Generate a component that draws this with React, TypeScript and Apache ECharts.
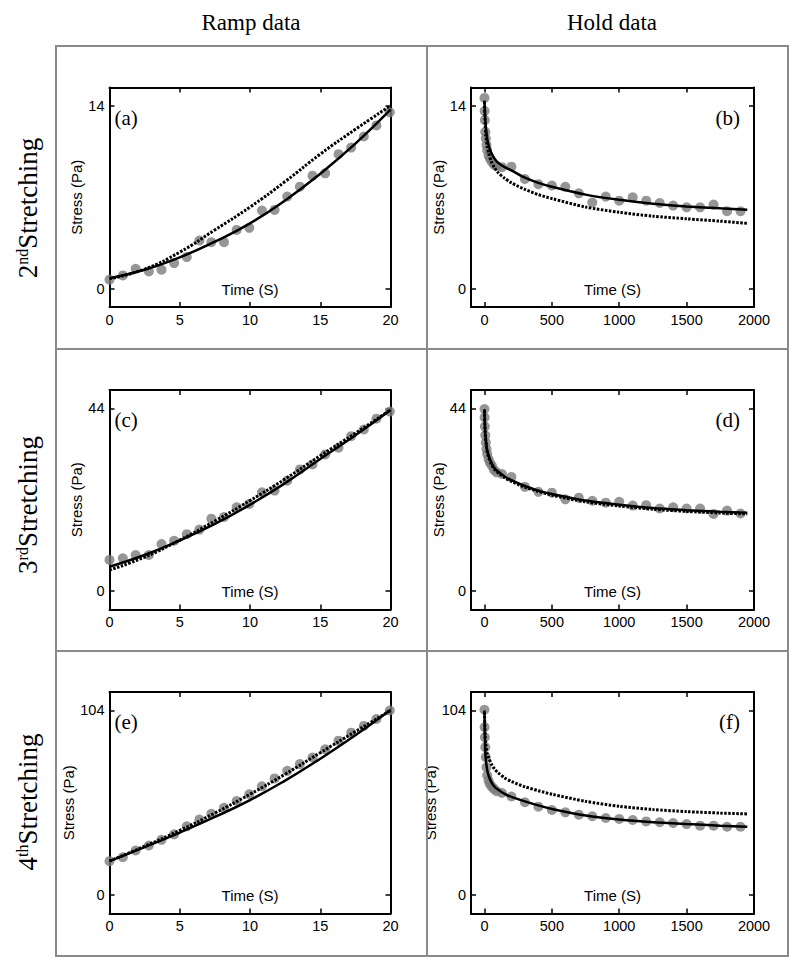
import React, { useEffect, useRef } from "react";
import * as echarts from "echarts";

// ---------- data ----------
const rampTime = [0, 0.95, 1.86, 2.8, 3.7, 4.6, 5.5, 6.4, 7.25, 8.15, 9.05, 9.95, 10.85, 11.75, 12.65, 13.55, 14.45, 15.35, 16.3, 17.2, 18.1, 19.0, 19.95];
const ramp2nd = [0.69, 1.02, 1.53, 1.32, 1.45, 1.96, 2.42, 3.69, 3.56, 3.56, 4.5, 4.66, 5.98, 6.03, 7.05, 7.81, 8.65, 8.83, 10.3, 10.8, 11.65, 12.5, 13.5];
const ramp3rd = [7.53, 7.93, 8.72, 8.72, 11.34, 12.13, 13.72, 14.83, 17.45, 17.84, 20.2, 21.0, 23.8, 24.2, 26.6, 29.3, 30.5, 32.9, 34.5, 37.3, 38.9, 41.5, 43.2];
const ramp4th = [19.1, 21.3, 25.1, 27.9, 31.1, 34.2, 38.7, 42.5, 45.8, 49.2, 53.0, 56.8, 61.3, 65.7, 70.0, 73.8, 77.5, 82.1, 87.0, 91.5, 95.3, 99.2, 104];

const rampFitTime = [0, 2.5, 5, 7.5, 10, 12.5, 15, 17.5, 20];
const ramp2ndSolid = [0.8, 1.45, 2.4, 3.6, 5.0, 6.75, 8.8, 11.1, 13.7];
const ramp2ndDotted = [0.76, 1.5, 2.8, 4.5, 6.25, 8.2, 10.3, 12.2, 14.0];
const ramp3rdSolid = [5.9, 8.7, 12.2, 16.2, 20.8, 26.0, 31.8, 37.5, 43.6];
const ramp3rdDotted = [5.1, 8.2, 12.3, 16.9, 21.8, 27.0, 32.6, 38.0, 43.6];
const ramp4thSolid = [19.1, 27.0, 35.2, 44.0, 53.5, 64.5, 76.8, 90.0, 104.2];
const ramp4thDotted = [19.1, 27.5, 36.4, 46.2, 56.8, 68.1, 80.2, 92.1, 104];

const holdTime = [0, 1, 3, 6, 10, 15, 20, 30, 40, 55, 70, 90, 130, 200, 300, 400, 500, 600, 700, 800, 900, 1000, 1100, 1200, 1300, 1400, 1500, 1600, 1700, 1800, 1900];
const hold2nd = [14.6, 13.6, 12.9, 12.0, 11.5, 11.0, 10.6, 10.2, 9.95, 9.7, 9.5, 9.4, 9.3, 9.34, 8.4, 8.0, 7.9, 7.8, 7.3, 6.6, 7.05, 6.74, 7.0, 6.74, 6.56, 6.36, 6.23, 6.23, 6.44, 5.93, 5.93];
const hold3rd = [43.8, 41.8, 39.6, 37.5, 35.8, 34.2, 33.0, 31.8, 30.9, 30.2, 29.2, 28.6, 28.2, 27.5, 25.1, 23.9, 23.7, 22.1, 22.5, 21.75, 21.3, 21.5, 20.6, 20.7, 19.9, 20.2, 19.9, 19.9, 18.6, 19.4, 18.7];
const hold4th = [104.4, 94.6, 88.9, 83.3, 77.7, 72, 67.5, 64.5, 62.5, 61.0, 59.8, 58.5, 57.5, 55.5, 52.3, 49.8, 47.9, 46.6, 45.3, 44.4, 43.4, 42.9, 42.3, 41.5, 41.0, 40.6, 40.0, 39.1, 39.1, 38.5, 38.5];

const holdFitTime = [0, 5, 10, 20, 30, 50, 75, 100, 150, 200, 300, 400, 500, 750, 1000, 1250, 1500, 1750, 1950];
const hold2ndSolid = [14.4, 13.1, 12.4, 11.5, 11.0, 10.4, 9.95, 9.65, 9.3, 9.05, 8.5, 8.1, 7.8, 7.2, 6.8, 6.5, 6.3, 6.15, 6.05];
const hold2ndDotted = [14.3, 12.6, 11.8, 10.9, 10.4, 9.75, 9.25, 8.9, 8.45, 8.1, 7.6, 7.2, 6.9, 6.25, 5.85, 5.55, 5.35, 5.17, 5.0];
const hold3rdSolid = [43.8, 38.5, 36.5, 34.0, 32.8, 31.0, 29.6, 28.8, 27.6, 26.7, 25.3, 24.2, 23.4, 21.8, 20.8, 20.0, 19.5, 19.1, 18.9];
const hold3rdDotted = [43.5, 38.0, 36.0, 33.5, 32.3, 30.6, 29.3, 28.5, 27.3, 26.4, 25.0, 24.0, 23.1, 21.5, 20.5, 19.7, 19.2, 18.8, 18.6];
const hold4thSolid = [104, 82, 76.5, 70.5, 67.5, 63.8, 61.0, 59.5, 57.0, 55.3, 52.8, 50.5, 48.5, 44.8, 42.5, 41.0, 40.0, 39.1, 38.5];
const hold4thDotted = [103, 90, 85, 80, 77.5, 74, 71, 69, 66, 64, 61, 58.8, 56.8, 52.8, 50.0, 48.2, 47.0, 46.2, 45.7];

const rampTicks = [0, 5, 10, 15, 20];
const holdTicks = [0, 500, 1000, 1500, 2000];
const yTop2nd = 14;
const yTop3rd = 44;
const yTop4th = 104;

const columnTitles = ["Ramp data", "Hold data"];
const rowLabels = [
  ["2", "nd"],
  ["3", "rd"],
  ["4", "th"],
];
const panelLetters = ["(a)", "(b)", "(c)", "(d)", "(e)", "(f)"];

// ---------- layout ----------
const SANS = "Liberation Sans, Arial, Helvetica, sans-serif";
const SERIF = "Liberation Serif, Times New Roman, serif";

type Panel = {
  left: number; top: number; w: number; h: number;
  xMin: number; xMax: number; xTicks: number[];
  yTop: number; pts: number[][]; solid: number[][]; dotted: number[][];
  yNameGap: number; letter: string; ramp: boolean;
};

const zip = (a: number[], b: number[]) => a.map((v, i) => [v, b[i]]);

const rowTops = [87.5, 390, 692];
const rowH = [219.5, 219.5, 221.5];
const rampLeft = 109.5;
const rampW = 281;
const holdLeft = 471;
const holdW = 283;
const yTops = [yTop2nd, yTop3rd, yTop4th];
const rampPts = [ramp2nd, ramp3rd, ramp4th];
const rampSol = [ramp2ndSolid, ramp3rdSolid, ramp4thSolid];
const rampDot = [ramp2ndDotted, ramp3rdDotted, ramp4thDotted];
const holdPts = [hold2nd, hold3rd, hold4th];
const holdSol = [hold2ndSolid, hold3rdSolid, hold4thSolid];
const holdDot = [hold2ndDotted, hold3rdDotted, hold4thDotted];
const rampNameGap = [25, 26, 31];
const holdNameGap = [26, 27, 33];

const panels: Panel[] = [];
for (let r = 0; r < 3; r++) {
  panels.push({
    left: rampLeft, top: rowTops[r], w: rampW, h: rowH[r],
    xMin: 0, xMax: 20, xTicks: rampTicks, yTop: yTops[r],
    pts: zip(rampTime, rampPts[r]), solid: zip(rampFitTime, rampSol[r]), dotted: zip(rampFitTime, rampDot[r]),
    yNameGap: rampNameGap[r], letter: panelLetters[r * 2], ramp: true,
  });
  panels.push({
    left: holdLeft, top: rowTops[r], w: holdW, h: rowH[r],
    xMin: -100, xMax: 2000, xTicks: holdTicks, yTop: yTops[r],
    pts: zip(holdTime, holdPts[r]), solid: zip(holdFitTime, holdSol[r]), dotted: zip(holdFitTime, holdDot[r]),
    yNameGap: holdNameGap[r], letter: panelLetters[r * 2 + 1], ramp: false,
  });
}

function buildOption() {
  const grid: any[] = [];
  const xAxis: any[] = [];
  const yAxis: any[] = [];
  const series: any[] = [];
  const graphic: any[] = [];

  const axisLine = { onZero: false, lineStyle: { color: "#000", width: 2 } };
  const tickStyle = { color: "#000", width: 1.5 };
  const labelStyle = { color: "#000", fontSize: 14.5, fontFamily: SANS, formatter: (v: number) => String(v) };

  panels.forEach((p, i) => {
    grid.push({ left: p.left, top: p.top, width: p.w, height: p.h, show: false, containLabel: false });
    const yMin = -0.1 * p.yTop;
    const yMax = 1.1 * p.yTop;
    const yTicks = [0, p.yTop];
    xAxis.push({
      gridIndex: i, type: "value", position: "bottom", min: p.xMin, max: p.xMax,
      axisLine, splitLine: { show: false },
      axisTick: { inside: true, length: 5, customValues: p.xTicks, lineStyle: tickStyle },
      axisLabel: { ...labelStyle, margin: 5, customValues: p.xTicks },
      name: "Time (S)", nameLocation: "middle", nameGap: -18,
      nameTextStyle: { color: "#000", fontSize: 15, fontFamily: SANS, verticalAlign: "middle" },
    });
    xAxis.push({
      gridIndex: i, type: "value", position: "top", min: p.xMin, max: p.xMax,
      axisLine, splitLine: { show: false },
      axisTick: { inside: true, length: 5, customValues: p.xTicks, lineStyle: tickStyle },
      axisLabel: { show: false },
    });
    yAxis.push({
      gridIndex: i, type: "value", position: "left", min: yMin, max: yMax,
      axisLine, splitLine: { show: false },
      axisTick: { inside: true, length: 5, customValues: yTicks, lineStyle: tickStyle },
      axisLabel: { ...labelStyle, margin: 5, customValues: yTicks },
      name: "Stress (Pa)", nameLocation: "middle", nameGap: p.yNameGap, nameRotate: 90,
      nameTextStyle: { color: "#000", fontSize: 15, fontFamily: SANS, verticalAlign: "middle", align: "center" },
    });
    yAxis.push({
      gridIndex: i, type: "value", position: "right", min: yMin, max: yMax,
      axisLine, splitLine: { show: false },
      axisTick: { inside: true, length: 5, customValues: yTicks, lineStyle: tickStyle },
      axisLabel: { show: false },
    });
    series.push({
      type: "scatter", xAxisIndex: i * 2, yAxisIndex: i * 2, data: p.pts,
      symbol: "circle", symbolSize: 10, itemStyle: { color: "#7c7c7c" }, z: 2,
    });
    series.push({
      type: "line", xAxisIndex: i * 2, yAxisIndex: i * 2, data: p.dotted,
      showSymbol: false, smooth: p.ramp ? 0.5 : 0.25,
      lineStyle: { color: "#000", width: 3, type: [2.5, 1.5] }, z: 3,
    });
    series.push({
      type: "line", xAxisIndex: i * 2, yAxisIndex: i * 2, data: p.solid,
      showSymbol: false, smooth: p.ramp ? 0.5 : 0.25,
      lineStyle: { color: "#000", width: 2.5 }, z: 4,
    });
    // panel letter
    graphic.push({
      type: "text",
      x: p.ramp ? p.left + 5 : p.left + p.w - 14,
      y: p.top + 30,
      style: {
        text: p.letter, fontSize: 21, fontFamily: SERIF, fill: "#000",
        align: p.ramp ? "left" : "right", verticalAlign: "middle",
      },
      z: 10,
    });
  });

  // outer frame
  graphic.push({ type: "rect", shape: { x: 56, y: 46, width: 732, height: 910 }, style: { fill: "none", stroke: "#8a8a8a", lineWidth: 2 }, z: 1 });
  graphic.push({ type: "line", shape: { x1: 427, y1: 46, x2: 427, y2: 956 }, style: { stroke: "#8a8a8a", lineWidth: 2 }, z: 1 });
  graphic.push({ type: "line", shape: { x1: 56, y1: 349, x2: 788, y2: 349 }, style: { stroke: "#8a8a8a", lineWidth: 2 }, z: 1 });
  graphic.push({ type: "line", shape: { x1: 56, y1: 651, x2: 788, y2: 651 }, style: { stroke: "#8a8a8a", lineWidth: 2 }, z: 1 });

  // column titles
  const titleX = [251, 612];
  columnTitles.forEach((t, i) => {
    graphic.push({
      type: "text", x: titleX[i], y: 22,
      style: { text: t, fontSize: 23, fontFamily: SERIF, fill: "#000", align: "center", verticalAlign: "middle" },
    });
  });

  // row labels
  const rowY = [208, 505, 802];
  rowLabels.forEach((rl, i) => {
    graphic.push({
      type: "text", x: 28, y: rowY[i], rotation: Math.PI / 2,
      style: {
        text: `{n|${rl[0]}}{s|${rl[1]}}{n|Stretching}`,
        align: "center", verticalAlign: "middle", fill: "#000",
        rich: {
          n: { fontSize: 27, fontFamily: SERIF, fill: "#000", verticalAlign: "bottom" },
          s: { fontSize: 16, fontFamily: SERIF, fill: "#000", verticalAlign: "top" },
        },
      },
    });
  });

  return {
    animation: false,
    backgroundColor: "#fff",
    grid, xAxis, yAxis, series, graphic,
  };
}

export default function App() {
  const ref = useRef<HTMLDivElement>(null);
  useEffect(() => {
    if (!ref.current) return;
    const chart = echarts.init(ref.current, null, { renderer: "svg" });
    chart.setOption(buildOption() as any);
    return () => chart.dispose();
  }, []);
  return (
    <div
      ref={ref}
      style={{ position: "absolute", left: 0, top: 0, width: 800, height: 963, background: "#fff" }}
    />
  );
}
